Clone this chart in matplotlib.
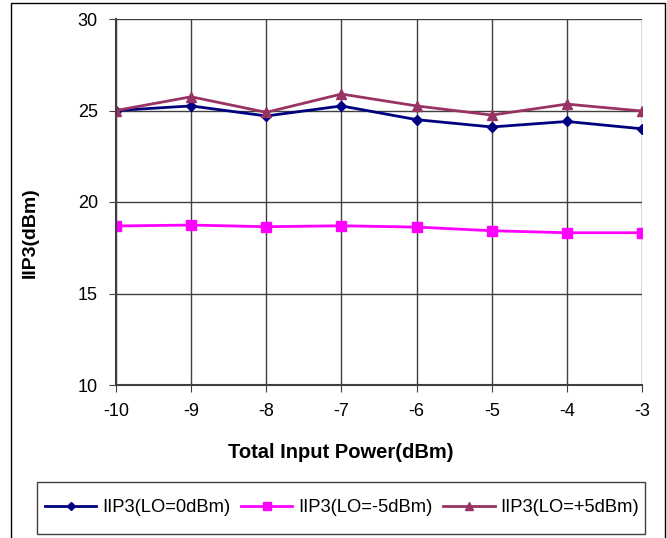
import matplotlib.pyplot as plt
from matplotlib.patches import Rectangle

plt.rcParams['font.family'] = ['Liberation Sans', 'DejaVu Sans']
plt.rcParams['axes.unicode_minus'] = False

# Input power sweep and measured IIP3 for three LO drive levels
power = [-10, -9, -8, -7, -6, -5, -4, -3]
iip3_lo_0 = [25.0, 25.25, 24.7, 25.25, 24.5, 24.1, 24.4, 24.0]
iip3_lo_m5 = [18.69, 18.74, 18.65, 18.7, 18.63, 18.43, 18.32, 18.32]
iip3_lo_p5 = [25.0, 25.75, 24.9, 25.9, 25.25, 24.75, 25.35, 24.97]

W, H = 667, 538
fig = plt.figure(figsize=(W / 100, H / 100), dpi=100)
ax = fig.add_axes([116 / W, 1 - 385 / H, (642 - 116) / W, (385 - 19) / H])

ax.plot(power, iip3_lo_0, color='#000080', marker='D', markersize=5, lw=2,
        label='IIP3(LO=0dBm)')
ax.plot(power, iip3_lo_m5, color='#FF00FF', marker='s', markersize=7, lw=2,
        label='IIP3(LO=-5dBm)')
ax.plot(power, iip3_lo_p5, color='#993366', marker='^', markersize=7, lw=2,
        label='IIP3(LO=+5dBm)')

ax.set_xlim(-10, -3)
ax.set_ylim(10, 30)
ax.set_xticks(power)
ax.set_yticks([10, 15, 20, 25, 30])
ax.grid(True, color='#404040', lw=1)
ax.set_axisbelow(True)
for side in ['top', 'right']:
    ax.spines[side].set_visible(False)
for side in ['left', 'bottom']:
    ax.spines[side].set_color('#404040')
    ax.spines[side].set_linewidth(1.5)
ax.tick_params(direction='out', length=5, color='#404040', labelsize=13)
ax.tick_params(axis='x', pad=8)
ax.tick_params(axis='y', pad=8)

fig.text(341 / W, 1 - 453 / H, 'Total Input Power(dBm)', fontsize=14.5,
         fontweight='bold', ha='center', va='center')
fig.text(30 / W, 1 - 233 / H, 'IIP3(dBm)', fontsize=14, fontweight='bold',
         rotation=90, ha='center', va='center')

# legend entries without frame; box drawn separately
ax.legend(loc='center', bbox_to_anchor=(342 / W, 1 - 508 / H),
          bbox_transform=fig.transFigure, ncol=3, fontsize=13.2,
          frameon=False, handlelength=2.8, columnspacing=0.6,
          handletextpad=0.3, markerscale=0.75)
fig.patches.append(Rectangle((37 / W, 1 - 534 / H), (645 - 37) / W, 52 / H,
                             transform=fig.transFigure, fill=False,
                             edgecolor='#404040', lw=1))

# outer chart border
fig.patches.append(Rectangle((11 / W, -0.01), (665 - 11) / W, 1 - 3 / H + 0.01,
                             transform=fig.transFigure, fill=False,
                             edgecolor='black', lw=1))

fig.savefig('out.png', dpi=100)
